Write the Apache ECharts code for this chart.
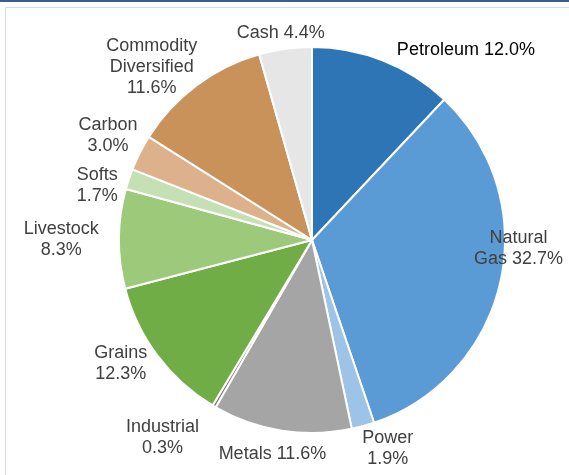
<!DOCTYPE html>
<html>
<head>
<meta charset="utf-8">
<script src="https://cdn.jsdelivr.net/npm/echarts@6/dist/echarts.min.js"></script>
<style>
  html, body { margin: 0; padding: 0; background: #fff; }
  #main { width: 569px; height: 475px; }
</style>
</head>
<body>
<div id="main"></div>
<script>
// slices, clockwise from 12 o'clock
var categories = ['Petroleum', 'Natural\nGas', 'Power', 'Metals', 'Industrial', 'Grains',
  'Livestock', 'Softs', 'Carbon', 'Commodity\nDiversified', 'Cash'];
var values = [12.0, 32.7, 1.9, 11.6, 0.3, 12.3, 8.3, 1.7, 3.0, 11.6, 4.4];
// does the percentage go on its own line
var wrapValue = [false, false, true, false, true, true, true, true, true, true, false];

var colors = ['#2E75B6', '#5B9BD5', '#9DC3E6', '#A5A5A5', '#7F7F7F', '#70AD47',
  '#9DC97B', '#C5E0B4', '#DDB18B', '#C9925A', '#E6E6E6'];

// excel "best fit" moves some labels around, small px nudges
var labelNudge = [[69, 24], [-31, -43], [17, -6], [-6, 3], [-32, -2], [-8, -14],
  [-18, 1], [-5, 15], [2, 0], [-12, 25], [-2, 2]];

var cx = 312, cy = 240, R = 193;

var total = values.reduce(function (a, b) { return a + b; }, 0);
var midAngle = [];
var acc = 0;
values.forEach(function (v) {
  midAngle.push((acc + v / 2) / total * Math.PI * 2);
  acc += v;
});

var chart = echarts.init(document.getElementById('main'));

var option = {
  backgroundColor: '#ffffff',
  animation: false,
  graphic: [
    { type: 'rect', shape: { x: 0, y: 0, width: 569, height: 2 }, style: { fill: '#3A5E8E' } },
    { type: 'rect', shape: { x: 5.5, y: 7.5, width: 600, height: 500 },
      style: { fill: 'none', stroke: '#DADADA', lineWidth: 1 } }
  ],
  series: [{
    type: 'pie',
    center: [cx, cy],
    radius: [0, R],
    startAngle: 90,
    clockwise: true,
    avoidLabelOverlap: false,
    itemStyle: { borderColor: '#ffffff', borderWidth: 2 },
    label: {
      show: true,
      position: 'outside',
      fontFamily: 'Liberation Sans, Arial, sans-serif',
      fontSize: 18,
      lineHeight: 21,
      color: '#404040',
      align: 'center',
      formatter: function (p) {
        return p.name + (wrapValue[p.dataIndex] ? '\n' : ' ') + p.value.toFixed(1) + '%';
      }
    },
    labelLine: { show: false },
    labelLayout: function (params) {
      var i = params.dataIndex;
      var w = params.labelRect.width, h = params.labelRect.height;
      var a = midAngle[i];
      var s = Math.sin(a), c = Math.cos(a);
      var ext = Math.abs(w / 2 * s) + Math.abs(h / 2 * c);
      var d = R + 2 + ext;
      return {
        x: cx + d * s + labelNudge[i][0],
        y: cy - d * c + labelNudge[i][1],
        align: 'center',
        verticalAlign: 'middle'
      };
    },
    data: categories.map(function (n, i) {
      var item = { name: n, value: values[i], itemStyle: { color: colors[i] } };
      if (i === 0) item.label = { color: '#000000' };
      return item;
    })
  }]
};

chart.setOption(option);
</script>
</body>
</html>
